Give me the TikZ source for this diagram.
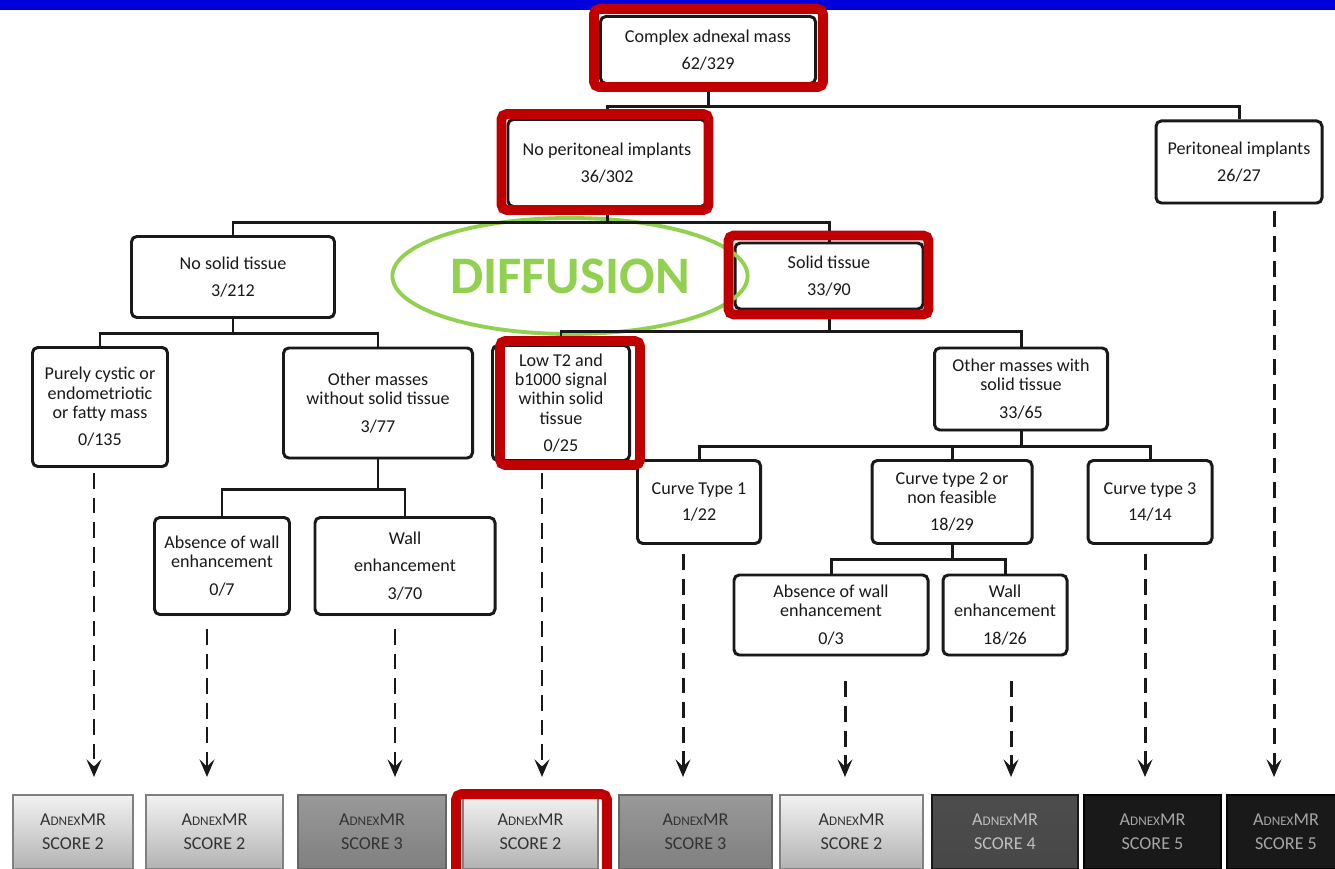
\documentclass[tikz,border=0pt]{standalone}
\usepackage{fontspec}
\setmainfont{Carlito}
\usepackage{tikz}
\usetikzlibrary{arrows.meta}
\usetikzlibrary{shapes.geometric}
\usetikzlibrary{shadows}
\usepackage{xcolor}
\definecolor{hired}{HTML}{C00000}
\definecolor{diffgreen}{HTML}{92D050}
\definecolor{barblue}{HTML}{0000DC}

\tikzset{
  box/.style={draw=black!90, line width=1.7pt, rounded corners=3pt, fill=white, align=center,
    text=black!90, font=\fontsize{10.3}{11}\selectfont, inner sep=1pt,
    drop shadow={shadow xshift=0.5pt, shadow yshift=-0.9pt, opacity=0.35}},
  hilite/.style={draw=hired, line width=5.6pt, rounded corners=3pt},
  link/.style={draw=black!90, line width=1.7pt},
  flow/.style={draw=black!90, line width=1.7pt, dash pattern=on 9pt off 5pt,
    -{Stealth[length=10pt, width=8.5pt, inset=4pt]}},
  score/.style={line width=1pt, align=center, minimum height=14.8mm, inner sep=1pt,
    font=\fontsize{10.3}{11}\selectfont},
  lightscore/.style={score, draw=black!50, top color=black!5, bottom color=black!30, text=black!80},
  midscore/.style={score, draw=black!60, top color=black!40, bottom color=black!50, text=black!80},
  darkscore/.style={score, draw=black!90, top color=black!70, bottom color=black!72, text=black!25},
  blackscore/.style={score, draw=black, top color=black!90, bottom color=black!90, text=black!35},
}
\newcommand{\adnex}{A{\fontsize{7.5}{8}\selectfont DNEX}MR}

\begin{document}
\begin{tikzpicture}[x=0.2mm, y=-0.2mm]
    \useasboundingbox (0,0) rectangle (1335,869);
    \clip (0,0) rectangle (1335,869);
    \fill[white] (0,0) rectangle (1335,869);
    \fill[barblue] (0,0) rectangle (1335,10);

    \node[box, minimum width=43mm, minimum height=13.4mm] (mass) at (708,50) {Complex adnexal mass\\[4pt]62/329};
    \node[box, minimum width=39.6mm, minimum height=17.4mm] (noimpl) at (607,163) {No peritoneal implants\\[4pt]36/302};
    \node[box, minimum width=33.2mm, minimum height=16.4mm] (impl) at (1239,162) {Peritoneal implants\\[4pt]26/27};
    \node[box, minimum width=40.6mm, minimum height=16.2mm] (nosolid) at (233,277) {No solid tissue\\[4pt]3/212};
    \node[box, minimum width=37.6mm, minimum height=13.2mm] (solid) at (829,276) {Solid tissue\\[4pt]33/90};
    \node[ellipse, draw=diffgreen, line width=2.2pt, minimum width=62.8mm, minimum height=23.2mm,
      text=diffgreen, font=\fontsize{30}{30}\selectfont\bfseries] (diff) at (570,276) {DIFFUSION};

    \node[box, minimum width=27mm, minimum height=23.8mm] (cystic) at (100,407) {Purely cystic or\\endometriotic\\or fatty mass\\[4.5pt]0/135};
    \node[box, minimum width=37.8mm, minimum height=22mm] (othernos) at (378,403) {Other masses\\without solid tissue\\[4.5pt]3/77};
    \node[box, minimum width=27mm, minimum height=19.4mm] (absnos) at (222,566) {Absence of wall\\enhancement\\[4.5pt]0/7};
    \node[box, minimum width=36mm, minimum height=19.4mm] (wallnos) at (405,566) {Wall\\[4.5pt]enhancement\\[4.5pt]3/70};
    \node[box, minimum width=27.4mm, minimum height=23mm] (lowt) at (561,403) {Low T2 and\\b1000 signal\\within solid\\tissue\\[4.5pt]0/25};
    \node[box, minimum width=34.6mm, minimum height=16.4mm] (otherws) at (1021,389) {Other masses with\\solid tissue\\[4.5pt]33/65};
    \node[box, minimum width=24.6mm, minimum height=16.6mm] (curveone) at (699,502) {Curve Type 1\\[4pt]1/22};
    \node[box, minimum width=32mm, minimum height=16.6mm] (curvetwo) at (952,502) {Curve type 2 or\\non feasible\\[4.5pt]18/29};
    \node[box, minimum width=24.8mm, minimum height=16.6mm] (curvethree) at (1150,502) {Curve type 3\\[4pt]14/14};
    \node[box, minimum width=38.8mm, minimum height=16mm] (absws) at (831,615) {Absence of wall\\enhancement\\[4.5pt]0/3};
    \node[box, minimum width=24.8mm, minimum height=16mm] (wallws) at (1005,615) {Wall\\enhancement\\[4.5pt]18/26};

    \node[lightscore, minimum width=24mm] (sc1) at (73,832) {\adnex\\[2.5pt]SCORE 2};
    \node[lightscore, minimum width=27.4mm] (sc2) at (214.5,832) {\adnex\\[2.5pt]SCORE 2};
    \node[midscore, minimum width=29.6mm] (sc3) at (372,832) {\adnex\\[2.5pt]SCORE 3};
    \node[lightscore, minimum width=27mm] (sc4) at (530.5,832) {\adnex\\[2.5pt]SCORE 2};
    \node[midscore, minimum width=30.6mm] (sc5) at (695.5,832) {\adnex\\[2.5pt]SCORE 3};
    \node[lightscore, minimum width=28.6mm] (sc6) at (851.5,832) {\adnex\\[2.5pt]SCORE 2};
    \node[darkscore, minimum width=29.2mm] (sc7) at (1005,832) {\adnex\\[2.5pt]SCORE 4};
    \node[blackscore, minimum width=27.4mm] (sc8) at (1152.5,832) {\adnex\\[2.5pt]SCORE 5};
    \node[blackscore, minimum width=23.6mm] (sc9) at (1286,832) {\adnex\\[2.5pt]SCORE 5};

    \draw[link] (mass.south) -- ++(0,22) coordinate (busa) -| (noimpl.north);
    \draw[link] (busa) -| (impl.north);
    \draw[link] (noimpl.south) -- ++(0,15) coordinate (busb) -| (nosolid.north);
    \draw[link] (busb) -| (solid.north);
    \draw[link] (nosolid.south) -- ++(0,15) coordinate (busc) -| (cystic.north);
    \draw[link] (busc) -| (othernos.north);
    \draw[link] (solid.south) -- ++(0,21) coordinate (busd) -| (lowt.north);
    \draw[link] (busd) -| (otherws.north);
    \draw[link] (othernos.south) -- ++(0,30) coordinate (buse) -| (absnos.north);
    \draw[link] (buse) -| (wallnos.north);
    \draw[link] (otherws.south) -- ++(0,15) coordinate (busf) -| (curveone.north);
    \draw[link] (busf) -| (curvetwo.north);
    \draw[link] (busf) -| (curvethree.north);
    \draw[link] (curvetwo.south) -- ++(0,15) coordinate (busg) -| (absws.north);
    \draw[link] (busg) -| (wallws.north);

    \coordinate (t1) at (94,777);
    \coordinate (t2) at (207,777);
    \coordinate (t3) at (395,777);
    \coordinate (t4) at (542,777);
    \coordinate (t5) at (683,777);
    \coordinate (t6) at (845,777);
    \coordinate (t7) at (1011,777);
    \coordinate (t8) at (1145,777);
    \coordinate (t9) at (1274,777);
    \draw[flow, shorten <=1mm] (t1 |- cystic.south) -- (t1);
    \draw[flow, shorten <=2.6mm] (t2 |- absnos.south) -- (t2);
    \draw[flow, shorten <=2.6mm] (t3 |- wallnos.south) -- (t3);
    \draw[flow, shorten <=2.3mm] (t4 |- lowt.south) -- (t4);
    \draw[flow, shorten <=1.9mm] (t5 |- curveone.south) -- (t5);
    \draw[flow, shorten <=5mm] (t6 |- absws.south) -- (t6);
    \draw[flow, shorten <=5mm] (t7 |- wallws.south) -- (t7);
    \draw[flow, shorten <=1.9mm] (t8 |- curvethree.south) -- (t8);
    \draw[flow, shorten <=1.4mm] (t9 |- impl.south) -- (t9);

    \draw[hilite] ([shift={(-5,-6)}]mass.north west) rectangle ([shift={(6,2)}]mass.south east);
    \draw[hilite] ([shift={(-5,-4)}]noimpl.north west) rectangle ([shift={(1,2)}]noimpl.south east);
    \draw[hilite] ([shift={(-5,-6)}]solid.north west) rectangle ([shift={(4,4)}]solid.south east);
    \draw[hilite] ([shift={(9,-3)}]lowt.north west) rectangle ([shift={(9,3)}]lowt.south east);
    \draw[hilite] ([shift={(-6,0)}]sc4.north west) rectangle ([shift={(8,11)}]sc4.south east);
\end{tikzpicture}
\end{document}
